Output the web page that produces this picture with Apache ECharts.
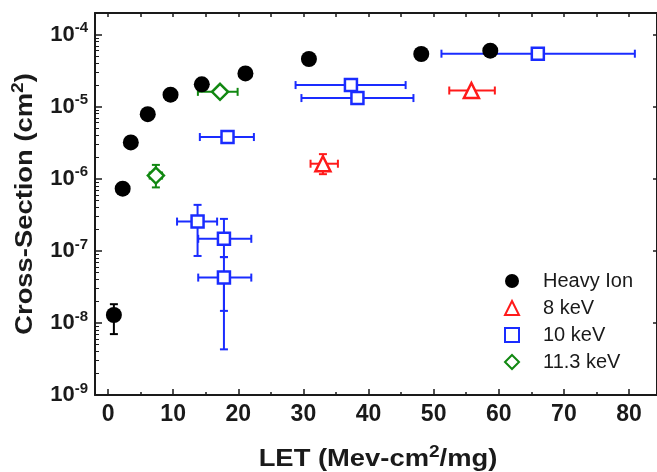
<!DOCTYPE html>
<html>
<head>
<meta charset="utf-8">
<script src="https://cdn.jsdelivr.net/npm/echarts@6.0.0/dist/echarts.min.js"></script>
<style>
  html, body { margin: 0; padding: 0; background: #fff; }
  #chart { width: 657px; height: 472px; }
</style>
</head>
<body>
<div id="chart"></div>
<script>
// values (LET in MeV-cm2/mg, cross-section in cm2)
const heavyLet = [0.9, 2.25, 3.5, 6.1, 9.6, 14.4, 21.1, 30.85, 48.1, 58.7];
const heavySigma = [1.29e-8, 7.3e-7, 3.2e-6, 7.9e-6, 1.47e-5, 2.05e-5, 2.9e-5, 4.6e-5, 5.4e-5, 6.0e-5];
const heavyErrY = [[7.0e-9, 1.82e-8], null, null, null, null, null, null, null, null, null];

const kev8Let = [33.0, 55.8];
const kev8Sigma = [1.62e-6, 1.68e-5];
const kev8ErrX = [[31.1, 35.3], [52.4, 59.4]];
const kev8ErrY = [[1.16e-6, 2.2e-6], null];

const kev10Let = [66.0, 37.3, 38.3, 18.35, 13.75, 17.8, 17.8];
const kev10Sigma = [5.45e-5, 2.0e-5, 1.32e-5, 3.8e-6, 2.55e-7, 1.47e-7, 4.26e-8];
const kev10ErrX = [[51.2, 80.9], [28.8, 45.7], [29.7, 46.9], [14.1, 22.4], [10.6, 16.75], [13.85, 22.0], [13.85, 22.0]];
const kev10ErrY = [null, null, null, null, [8.5e-8, 4.35e-7], [8.2e-8, 2.78e-7], [4.3e-9, 8.2e-8]];
// second (inner) error range on the lowest 10 keV point
const kev10InnerY = [null, null, null, null, null, null, [1.47e-8, 4.26e-8]];

const kev113Let = [7.35, 17.2];
const kev113Sigma = [1.11e-6, 1.61e-5];
const kev113ErrX = [[6.4, 8.3], [13.8, 19.9]];
const kev113ErrY = [[7.6e-7, 1.56e-6], null];

const seriesNames = ['Heavy Ion', '8 keV', '10 keV', '11.3 keV'];

const xTicks = [0, 10, 20, 30, 40, 50, 60, 70, 80];
const xMinorTicks = [5, 15, 25, 35, 45, 55, 65, 75];
const xTopTicks = [0, 5, 10, 15, 20, 25, 30, 35, 40, 45, 50, 55, 60, 65, 70, 75, 80];
const yDecades = [1e-9, 1e-8, 1e-7, 1e-6, 1e-5, 1e-4];
const yMinorSteps = [2, 3, 4, 5, 6, 7, 8, 9];

const yMinorTicks = [];
yDecades.slice(0, 5).forEach(d => yMinorSteps.forEach(m => yMinorTicks.push(m * d)));

const ink = '#1a1a1a';
const font = 'Arial, "Liberation Sans", sans-serif';

function rows(xs, ys, errX, errY) {
  return xs.map((x, i) => {
    const ex = errX && errX[i] ? errX[i] : [NaN, NaN];
    const ey = errY && errY[i] ? errY[i] : [NaN, NaN];
    return [x, ys[i], ex[0], ex[1], ey[0], ey[1]];
  });
}

function errorBars(data, color) {
  return {
    type: 'custom',
    silent: true,
    z: 3,
    encode: { x: 0, y: 1 },
    data,
    renderItem(params, api) {
      const x = api.value(0);
      const y = api.value(1);
      const style = { stroke: color, lineWidth: 2 };
      const cap = 4;
      const children = [];
      const xl = api.value(2), xh = api.value(3);
      const yl = api.value(4), yh = api.value(5);
      if (!isNaN(xl) && !isNaN(xh)) {
        const a = api.coord([xl, y]);
        const b = api.coord([xh, y]);
        children.push({ type: 'line', shape: { x1: a[0], y1: a[1], x2: b[0], y2: b[1] }, style });
        children.push({ type: 'line', shape: { x1: a[0], y1: a[1] - cap, x2: a[0], y2: a[1] + cap }, style });
        children.push({ type: 'line', shape: { x1: b[0], y1: b[1] - cap, x2: b[0], y2: b[1] + cap }, style });
      }
      if (!isNaN(yl) && !isNaN(yh)) {
        const a = api.coord([x, yl]);
        const b = api.coord([x, yh]);
        children.push({ type: 'line', shape: { x1: a[0], y1: a[1], x2: b[0], y2: b[1] }, style });
        children.push({ type: 'line', shape: { x1: a[0] - cap, y1: a[1], x2: a[0] + cap, y2: a[1] }, style });
        children.push({ type: 'line', shape: { x1: b[0] - cap, y1: b[1], x2: b[0] + cap, y2: b[1] }, style });
      }
      return { type: 'group', children };
    }
  };
}

const tickLabelStyle = {
  color: ink,
  fontFamily: font,
  fontWeight: 'bold',
  fontSize: 23
};

// axis titles: bold, a little wider than plain Arial in the reference
const titleRich = {
  m: { fontFamily: font, fontWeight: 'bold', fontSize: 23, fill: ink, lineHeight: 30 },
  s: { fontFamily: font, fontWeight: 'bold', fontSize: 16, fill: ink, lineHeight: 12, verticalAlign: 'top' }
};

const chart = echarts.init(document.getElementById('chart'));

chart.setOption({
  animation: false,
  backgroundColor: '#fff',
  grid: { left: 95, top: 13, right: -1, bottom: 77 },
  graphic: [
    {
      type: 'text',
      x: 378,
      y: 459.5,
      scaleX: 1.19,
      silent: true,
      style: { text: '{m|LET (Mev-cm}{s|2}{m|/mg)}', rich: titleRich, align: 'center', verticalAlign: 'middle' }
    },
    {
      type: 'text',
      x: 26,
      y: 204,
      rotation: Math.PI / 2,
      scaleX: 1.19,
      silent: true,
      style: { text: '{m|Cross-Section (cm}{s|2}{m|)}', rich: titleRich, align: 'center', verticalAlign: 'middle' }
    }
  ],
  legend: {
    orient: 'vertical',
    left: 504,
    top: 271,
    padding: 0,
    itemWidth: 14,
    itemHeight: 14,
    itemGap: 7,
    data: seriesNames,
    textStyle: { color: ink, fontFamily: font, fontSize: 20, padding: [0, 0, 0, 19] }
  },
  xAxis: [
    {
      type: 'value',
      position: 'bottom',
      min: -2,
      max: 84.3,
      axisLine: { onZero: false, lineStyle: { color: ink, width: 2 } },
      axisTick: { inside: true, length: 6, customValues: xTicks, lineStyle: { color: ink, width: 1.5 } },
      axisLabel: { ...tickLabelStyle, margin: 8, customValues: xTicks },
      splitLine: { show: false }
    },
    {
      type: 'value',
      position: 'bottom',
      min: -2,
      max: 84.3,
      axisLine: { show: false, onZero: false },
      axisTick: { inside: true, length: 3, customValues: xMinorTicks, lineStyle: { color: ink, width: 1.5 } },
      axisLabel: { show: false },
      splitLine: { show: false }
    },
    {
      type: 'value',
      position: 'top',
      min: -2,
      max: 84.3,
      axisLine: { onZero: false, lineStyle: { color: ink, width: 2 } },
      axisTick: { inside: true, length: 4, customValues: xTopTicks, lineStyle: { color: ink, width: 1.5 } },
      axisLabel: { show: false },
      splitLine: { show: false }
    }
  ],
  yAxis: [
    {
      type: 'log',
      position: 'left',
      min: 1e-9,
      max: 2e-4,
      axisLine: { onZero: false, lineStyle: { color: ink, width: 2 } },
      axisTick: { inside: true, length: 7, customValues: yDecades, lineStyle: { color: ink, width: 1.5 } },
      axisLabel: {
        margin: 7,
        customValues: yDecades,
        formatter: v => '{b|10}{s|' + Math.round(Math.log10(v)) + '}',
        rich: {
          b: { ...tickLabelStyle, fontSize: 22, lineHeight: 28 },
          s: { ...tickLabelStyle, fontSize: 15, lineHeight: 14, verticalAlign: 'top' }
        }
      },
      splitLine: { show: false }
    },
    {
      type: 'log',
      position: 'left',
      min: 1e-9,
      max: 2e-4,
      axisLine: { show: false, onZero: false },
      axisTick: { inside: true, length: 4, customValues: yMinorTicks, lineStyle: { color: ink, width: 1 } },
      axisLabel: { show: false },
      splitLine: { show: false }
    },
    {
      type: 'log',
      position: 'right',
      min: 1e-9,
      max: 2e-4,
      axisLine: { onZero: false, lineStyle: { color: ink, width: 2 } },
      axisTick: { inside: true, length: 4, customValues: yDecades, lineStyle: { color: ink, width: 1.5 } },
      axisLabel: { show: false },
      splitLine: { show: false }
    }
  ],
  series: [
    errorBars(rows(kev8Let, kev8Sigma, kev8ErrX, kev8ErrY), '#ff1a1a'),
    errorBars(rows(kev10Let, kev10Sigma, kev10ErrX, kev10ErrY), '#1a2cff'),
    errorBars(rows(kev10Let, kev10Sigma, null, kev10InnerY), '#1a2cff'),
    errorBars(rows(kev113Let, kev113Sigma, kev113ErrX, kev113ErrY), '#118811'),
    errorBars(rows(heavyLet, heavySigma, null, heavyErrY), '#000'),
    {
      name: '8 keV',
      type: 'scatter',
      z: 4,
      symbol: 'triangle',
      symbolSize: 15,
      itemStyle: { color: '#fff', borderColor: '#ff1a1a', borderWidth: 2.5, opacity: 1 },
      data: kev8Let.map((x, i) => [x, kev8Sigma[i]])
    },
    {
      name: '10 keV',
      type: 'scatter',
      z: 4,
      symbol: 'rect',
      symbolSize: 12,
      itemStyle: { color: '#fff', borderColor: '#1a2cff', borderWidth: 2.5, opacity: 1 },
      data: kev10Let.map((x, i) => [x, kev10Sigma[i]])
    },
    {
      name: '11.3 keV',
      type: 'scatter',
      z: 4,
      symbol: 'diamond',
      symbolSize: 16,
      itemStyle: { color: '#fff', borderColor: '#118811', borderWidth: 2.5, opacity: 1 },
      data: kev113Let.map((x, i) => [x, kev113Sigma[i]])
    },
    {
      name: 'Heavy Ion',
      type: 'scatter',
      z: 5,
      symbol: 'circle',
      symbolSize: 16,
      itemStyle: { color: '#000', opacity: 1 },
      data: heavyLet.map((x, i) => [x, heavySigma[i]])
    }
  ]
});
</script>
</body>
</html>
